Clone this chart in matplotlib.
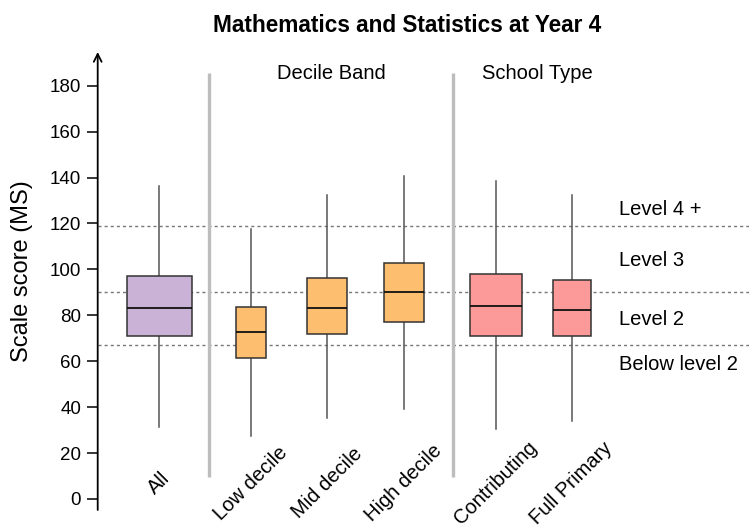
import matplotlib
matplotlib.use("Agg")
import matplotlib.pyplot as plt

plt.rcParams["font.family"] = ["Liberation Sans", "DejaVu Sans"]

# box statistics (scale score)
groups = ["All", "Low decile", "Mid decile", "High decile", "Contributing", "Full Primary"]
q1 = [71.0, 61.3, 71.9, 77.2, 71.1, 70.8]
median = [83.3, 72.6, 83.0, 90.0, 83.9, 82.4]
q3 = [97.1, 83.8, 96.1, 102.7, 98.0, 95.4]
whisk_lo = [31.5, 27.4, 35.4, 39.2, 30.6, 34.0]
whisk_hi = [136.3, 117.6, 132.4, 140.8, 138.6, 132.4]

# achievement level cut scores and labels
cuts = [66.9, 90.0, 118.9]
level_labels = ["Below level 2", "Level 2", "Level 3", "Level 4 +"]
level_label_y = [58.4, 78.0, 104.0, 126.0]

section_labels = ["Decile Band", "School Type"]

# layout / style
positions = [1.0, 2.21, 3.21, 4.22, 5.43, 6.43]
widths = [0.855, 0.39, 0.53, 0.53, 0.68, 0.50]
colors = ["#cab2d6", "#fdbf6f", "#fdbf6f", "#fdbf6f", "#fb9a99", "#fb9a99"]
separators = [1.66, 4.87]
section_x = [3.27, 5.98]

fig = plt.figure(figsize=(7.49, 5.28), dpi=100)
ax = fig.add_axes([97.7 / 749, 18 / 528, 1 - 97.7 / 749, 458 / 528])
ax.set_xlim(0.193, 8.763)
ax.set_ylim(-4.8, 194.7)

for y in cuts:
    ax.axhline(y, color="#777777", lw=1, ls=(0, (2.2, 2.2)), zorder=1)

for x in separators:
    ax.plot([x, x], [9.7, 185.4], color="#bdbdbd", lw=2.4, solid_capstyle="butt", zorder=1)

stats = [dict(label=g, med=m, q1=a, q3=b, whislo=lo, whishi=hi, fliers=[])
         for g, m, a, b, lo, hi in zip(groups, median, q1, q3, whisk_lo, whisk_hi)]
bp = ax.bxp(stats, positions=positions, widths=widths, patch_artist=True,
            showcaps=False, showfliers=False, manage_ticks=False,
            boxprops=dict(edgecolor="#333333", lw=1.1),
            medianprops=dict(color="#111111", lw=1.3),
            whiskerprops=dict(color="#555555", lw=1.1))
for patch, c in zip(bp["boxes"], colors):
    patch.set_facecolor(c)
    patch.set_zorder(3)
for ln in bp["medians"]:
    ln.set_zorder(4)

for g, x in zip(groups, positions):
    ax.text(x, 6.8, g, rotation=45, ha="center", va="center", fontsize=14.5,
            rotation_mode="anchor", clip_on=False)

for lab, y in zip(level_labels, level_label_y):
    ax.text(7.05, y, lab, ha="left", va="center", fontsize=14.5)

for lab, x in zip(section_labels, section_x):
    ax.text(x, 185.2, lab, ha="center", va="center", fontsize=14.5)

# y axis with an arrow on top
for s in ["top", "right", "bottom", "left"]:
    ax.spines[s].set_visible(False)
ax.annotate("", xy=(0, 1), xytext=(0, 0), xycoords="axes fraction",
            arrowprops=dict(arrowstyle="->", color="black", lw=1.3,
                            shrinkA=0, shrinkB=0, mutation_scale=14))
ax.set_xticks([])
ax.set_yticks(range(0, 181, 20))
ax.tick_params(axis="y", length=8, width=1.1, pad=4, labelsize=13.5)

fig.text(22.5 / 749, 1 - 271.5 / 528, "Scale score (MS)", rotation=90,
         ha="center", va="center", fontsize=17)
fig.text(407.5 / 749, 1 - 25 / 528, "Mathematics and Statistics at Year 4",
         ha="center", va="center", fontsize=16.3, fontweight="bold")

fig.savefig("out.png", dpi=100)
